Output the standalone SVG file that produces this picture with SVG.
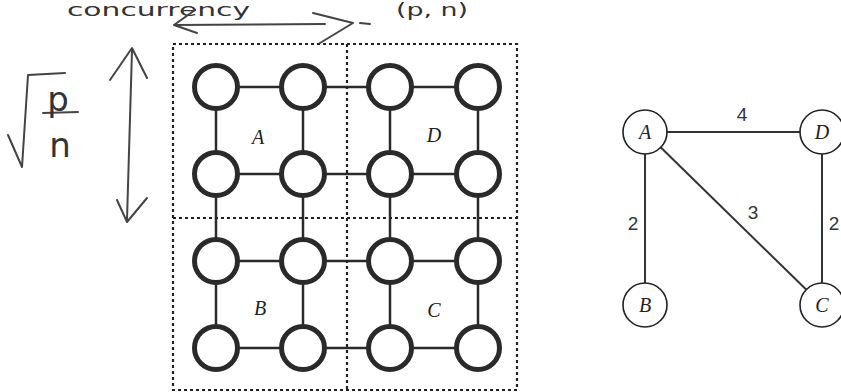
<svg xmlns="http://www.w3.org/2000/svg" width="841" height="392" viewBox="0 0 841 392">
<style>
.gn{fill:#fff;stroke:#2a2a2a;stroke-width:5}
.ge{stroke:#2a2a2a;stroke-width:2.5}
.box{fill:none;stroke:#222;stroke-width:2.2;stroke-dasharray:3 3}
.lbl{font-family:"Liberation Serif",serif;font-style:italic;font-size:20px;fill:#222;text-anchor:middle}
.rn{fill:#fff;stroke:#222;stroke-width:1.6}
.re{stroke:#333;stroke-width:2}
.num{font-family:"Liberation Sans",sans-serif;font-size:19px;fill:#333;text-anchor:middle}
.hw{fill:none;stroke:#444;stroke-width:2;stroke-linecap:round;stroke-linejoin:round}
.hwt{font-family:"DejaVu Sans",sans-serif;fill:#333}
</style>
<rect width="841" height="392" fill="#fff"/>

<!-- handwritten annotations -->
<g id="annotations">
  <text class="hwt" x="67" y="16" font-size="18" textLength="183" lengthAdjust="spacingAndGlyphs">concurrency</text>
  <text class="hwt" x="396" y="16" font-size="18" textLength="72" lengthAdjust="spacingAndGlyphs">(p, n)</text>
  <path class="hw" d="M174 25 L325 24 M195 10 L174 25 L197 33 M313 13 L353 23 L320 43 M360 23 L370 24"/>
  <path class="hw" d="M132 50 L127 220 M110 80 L132 48 L147 78 M117 200 L127 222 L147 198" stroke-width="1.6"/>
  <path class="hw" d="M8 135 L22 167 L28 75 L65 73"/>
  <line class="hw" x1="43" y1="113" x2="78" y2="112"/>
  <text class="hwt" x="58" y="111" font-size="34" text-anchor="middle">p</text>
  <text class="hwt" x="60" y="157" font-size="34" text-anchor="middle">n</text>
</g>

<!-- grid edges -->
<g id="grid-edges">
  <line class="ge" x1="216" y1="87" x2="478" y2="87"/>
  <line class="ge" x1="216" y1="174" x2="478" y2="174"/>
  <line class="ge" x1="216" y1="261" x2="478" y2="261"/>
  <line class="ge" x1="216" y1="348" x2="478" y2="348"/>
  <line class="ge" x1="216" y1="87" x2="216" y2="348"/>
  <line class="ge" x1="303" y1="87" x2="303" y2="348"/>
  <line class="ge" x1="390" y1="87" x2="390" y2="348"/>
  <line class="ge" x1="478" y1="87" x2="478" y2="348"/>
</g>

<!-- partition boxes -->
<g id="partitions">
  <rect class="box" x="173" y="44" width="344" height="346"/>
  <line class="box" x1="347" y1="44" x2="347" y2="390"/>
  <line class="box" x1="173" y1="218" x2="517" y2="218"/>
</g>

<!-- grid nodes -->
<g id="grid-nodes">
  <g id="n11"><circle class="gn" cx="216" cy="87" r="21.5"/></g>
  <g id="n12"><circle class="gn" cx="303" cy="87" r="21.5"/></g>
  <g id="n13"><circle class="gn" cx="390" cy="87" r="21.5"/></g>
  <g id="n14"><circle class="gn" cx="478" cy="87" r="21.5"/></g>
  <g id="n21"><circle class="gn" cx="216" cy="174" r="21.5"/></g>
  <g id="n22"><circle class="gn" cx="303" cy="174" r="21.5"/></g>
  <g id="n23"><circle class="gn" cx="390" cy="174" r="21.5"/></g>
  <g id="n24"><circle class="gn" cx="478" cy="174" r="21.5"/></g>
  <g id="n31"><circle class="gn" cx="216" cy="261" r="21.5"/></g>
  <g id="n32"><circle class="gn" cx="303" cy="261" r="21.5"/></g>
  <g id="n33"><circle class="gn" cx="390" cy="261" r="21.5"/></g>
  <g id="n34"><circle class="gn" cx="478" cy="261" r="21.5"/></g>
  <g id="n41"><circle class="gn" cx="216" cy="348" r="21.5"/></g>
  <g id="n42"><circle class="gn" cx="303" cy="348" r="21.5"/></g>
  <g id="n43"><circle class="gn" cx="390" cy="348" r="21.5"/></g>
  <g id="n44"><circle class="gn" cx="478" cy="348" r="21.5"/></g>
</g>
<g id="grid-labels">
  <text class="lbl" x="258" y="144">A</text>
  <text class="lbl" x="434" y="142">D</text>
  <text class="lbl" x="260" y="315">B</text>
  <text class="lbl" x="434" y="317">C</text>
</g>

<!-- right graph connectors -->
<g id="connectors">
  <line class="re" x1="645" y1="132" x2="822" y2="132"/>
  <line class="re" x1="645" y1="132" x2="645" y2="305"/>
  <line class="re" x1="645" y1="132" x2="822" y2="305"/>
  <line class="re" x1="822" y1="132" x2="822" y2="305"/>
  <text class="num" x="742" y="121">4</text>
  <text class="num" x="753" y="219">3</text>
  <text class="num" x="633" y="230">2</text>
  <text class="num" x="834" y="230">2</text>
</g>
<g id="nodeA"><circle class="rn" cx="645" cy="132" r="22"/><text class="lbl" x="645" y="139">A</text></g>
<g id="nodeD"><circle class="rn" cx="822" cy="132" r="22"/><text class="lbl" x="822" y="139">D</text></g>
<g id="nodeB"><circle class="rn" cx="645" cy="305" r="22"/><text class="lbl" x="645" y="312">B</text></g>
<g id="nodeC"><circle class="rn" cx="822" cy="305" r="22"/><text class="lbl" x="822" y="312">C</text></g>
</svg>
